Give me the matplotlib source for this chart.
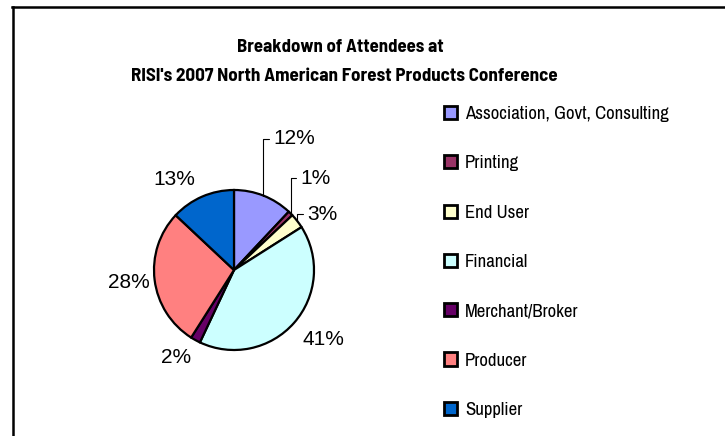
import numpy as np
import matplotlib
matplotlib.use("Agg")
import matplotlib.pyplot as plt
from matplotlib.lines import Line2D

# data
categories = ["Association, Govt, Consulting", "Printing", "End User", "Financial",
              "Merchant/Broker", "Producer", "Supplier"]
shares = [12, 1, 3, 41, 2, 28, 13]
colors = ["#9999FF", "#993366", "#FFFFCC", "#CCFFFF", "#660066", "#FF8080", "#0066CC"]
title_lines = ["Breakdown of Attendees at",
               "RISI's 2007 North American Forest Products Conference"]

narrow = ["Archivo Narrow", "DejaVu Sans"]
narrow_bold = ["Barlow Semi Condensed", "DejaVu Sans"]
plain = ["Liberation Sans", "DejaVu Sans"]

fig = plt.figure(figsize=(7.25, 4.36), dpi=100)
fig.patch.set_facecolor("white")

# pie axes: centre at (234, 270) px, radius 80 px
W, H = 725, 436
ax = fig.add_axes([134 / W, (H - 270 - 100) / H, 200 / W, 200 / H])
ax.set_xlim(-1.25, 1.25)
ax.set_ylim(-1.25, 1.25)
ax.set_aspect("equal")
ax.axis("off")

wedges, _ = ax.pie(shares, colors=colors, startangle=90, counterclock=False,
                   radius=1.0, wedgeprops=dict(edgecolor="black", linewidth=1.6))

# label placement: (radial distance, angle shift) per slice, leader line flag
label_dist = [1.71, 1.415, 1.15, 1.41, 1.31, 1.32, 1.35]
label_shift = [5, 9.3, -0.5, 3.6, -5, -0.5, 10]
leader = [True, True, True, False, False, False, False]

for w, pct, d, sh, ld in zip(wedges, shares, label_dist, label_shift, leader):
    mid = np.deg2rad((w.theta1 + w.theta2) / 2)
    tx, ty = d * np.cos(mid + np.deg2rad(sh)), d * np.sin(mid + np.deg2rad(sh))
    ex, ey = np.cos(mid), np.sin(mid)
    if ld:
        ax.annotate(f"{pct}%", xy=(ex, ey), xytext=(tx, ty), ha="left", va="center",
                    fontsize=15, family=plain, annotation_clip=False,
                    arrowprops=dict(arrowstyle="-", color="black", lw=0.8,
                                    connectionstyle="angle,angleA=0,angleB=90,rad=0",
                                    relpos=(0, 0.5), shrinkA=1, shrinkB=0))
    else:
        ax.text(tx, ty, f"{pct}%", ha="center", va="center", fontsize=15, family=plain)

# title
fig.text(340 / W, 1 - 47 / H, title_lines[0], ha="center", va="center",
         fontsize=13.5, fontweight="bold", family=narrow_bold)
fig.text(344 / W, 1 - 76 / H, title_lines[1], ha="center", va="center",
         fontsize=13.7, fontweight="bold", family=narrow_bold)

# legend
leg = fig.legend(wedges, categories, loc="upper left",
                 bbox_to_anchor=(427 / W, 1 - 89 / H), frameon=False,
                 prop=dict(family=narrow, size=13.5), handlelength=0.7,
                 handleheight=0.7, handletextpad=0.43, labelspacing=1.77)
for h in leg.legend_handles:
    h.set_linewidth(2)

# chart frame (only top and left edges visible)
fig.add_artist(Line2D([12 / W, 1], [1 - 7.5 / H, 1 - 7.5 / H], color="black",
                      lw=1.8, transform=fig.transFigure))
fig.add_artist(Line2D([12.5 / W, 12.5 / W], [0, 1 - 7.5 / H], color="black",
                      lw=1.8, transform=fig.transFigure))

fig.savefig("out.png", dpi=100, facecolor="white")
